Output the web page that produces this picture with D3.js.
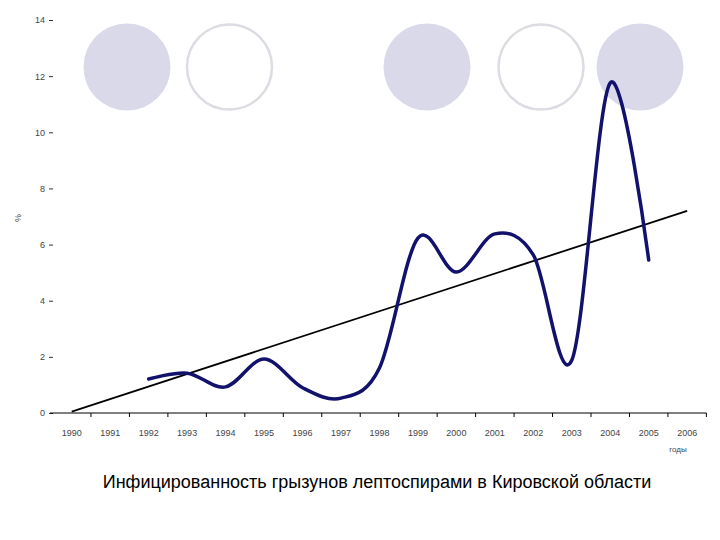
<!DOCTYPE html>
<html>
<head>
<meta charset="utf-8">
<script src="https://cdn.jsdelivr.net/npm/d3@7"></script>
<style>
  body { margin: 0; background: #fff; }
  svg { display: block; font-family: "Liberation Sans", Arial, sans-serif; }
</style>
</head>
<body>
<div id="chart"></div>
<script>
// years on the x axis
var years = ["1990", "1991", "1992", "1993", "1994", "1995", "1996", "1997", "1998",
             "1999", "2000", "2001", "2002", "2003", "2004", "2005", "2006"];

// infected rodents, % (1992..2005)
var obsYears = ["1992", "1993", "1994", "1995", "1996", "1997", "1998",
                "1999", "2000", "2001", "2002", "2003", "2004", "2005"];
var obsValues = [1.21, 1.42, 0.93, 1.92, 0.9, 0.53, 1.6,
                 6.23, 5.02, 6.38, 5.63, 1.88, 11.76, 5.45];

// linear trend, from 1990 to 2006
var trendYears = ["1990", "2006"];
var trendValues = [0.05, 7.2];

var yTicks = [0, 2, 4, 6, 8, 10, 12, 14];

var width = 720, height = 540;

var svg = d3.select("#chart").append("svg")
    .attr("width", width)
    .attr("height", height);

// decorative circles at the top
var deco = [
    { cx: 127, filled: true },
    { cx: 229.5, filled: false },
    { cx: 427, filled: true },
    { cx: 541, filled: false },
    { cx: 640, filled: true }
];
svg.append("g").selectAll("circle")
    .data(deco)
    .enter().append("circle")
    .attr("cx", function(d) { return d.cx; })
    .attr("cy", 67)
    .attr("r", function(d) { return d.filled ? 43.5 : 42.5; })
    .style("fill", function(d) { return d.filled ? "#d9d9ea" : "#fff"; })
    .style("stroke", function(d) { return d.filled ? "none" : "#dcdce2"; })
    .style("stroke-width", 2.5);

var x = d3.scaleBand()
    .domain(years)
    .range([52.5, 706.4]);

var y = d3.scaleLinear()
    .domain([0, 14])
    .range([413, 20]);

var cx = function(yr) { return x(yr) + x.bandwidth() / 2; };

// y axis: only the little dashes and labels
var yAxis = svg.append("g")
    .attr("transform", "translate(53,0)")
    .call(d3.axisLeft(y).tickValues(yTicks).tickSize(4).tickPadding(4));
yAxis.select(".domain").remove();
yAxis.selectAll("text")
    .style("font-size", "9px")
    .style("fill", "#444");
yAxis.selectAll("line").style("stroke", "#333");

// x axis line + boundary ticks
var xg = svg.append("g");
xg.append("line")
    .attr("x1", 50).attr("x2", x.range()[1])
    .attr("y1", y(0)).attr("y2", y(0))
    .style("stroke", "#000")
    .style("stroke-width", 1);

var bounds = years.slice(1).map(function(yr) { return x(yr); });
bounds.push(x.range()[1]);
xg.selectAll(".tk")
    .data(bounds)
    .enter().append("line")
    .attr("class", "tk")
    .attr("x1", function(d) { return d; })
    .attr("x2", function(d) { return d; })
    .attr("y1", y(0))
    .attr("y2", y(0) + 4)
    .style("stroke", "#000");

xg.selectAll(".lbl")
    .data(years)
    .enter().append("text")
    .attr("class", "lbl")
    .attr("x", function(d) { return cx(d); })
    .attr("y", 436)
    .attr("text-anchor", "middle")
    .style("font-size", "9px")
    .style("fill", "#444")
    .text(function(d) { return d; });

svg.append("text")
    .attr("x", 678)
    .attr("y", 452)
    .attr("text-anchor", "middle")
    .style("font-size", "8px")
    .style("fill", "#444")
    .text("годы");

svg.append("text")
    .attr("transform", "translate(21,218) rotate(-90)")
    .attr("text-anchor", "middle")
    .style("font-size", "9px")
    .style("fill", "#444")
    .text("%");

// trend line
var trend = trendYears.map(function(yr, i) { return [cx(yr), y(trendValues[i])]; });
svg.append("path")
    .attr("d", d3.line()(trend))
    .style("fill", "none")
    .style("stroke", "#000")
    .style("stroke-width", 1.8);

// observed series, smoothed
var pts = obsYears.map(function(yr, i) { return [cx(yr), y(obsValues[i])]; });
svg.append("path")
    .attr("d", d3.line().curve(d3.curveCatmullRom.alpha(0))(pts))
    .style("fill", "none")
    .style("stroke", "#12126c")
    .style("stroke-width", 3.5)
    .style("stroke-linecap", "round");

svg.append("text")
    .attr("x", 377)
    .attr("y", 488)
    .attr("text-anchor", "middle")
    .style("font-size", "18px")
    .style("fill", "#000")
    .text("Инфицированность грызунов лептоспирами в Кировской области");
</script>
</body>
</html>
